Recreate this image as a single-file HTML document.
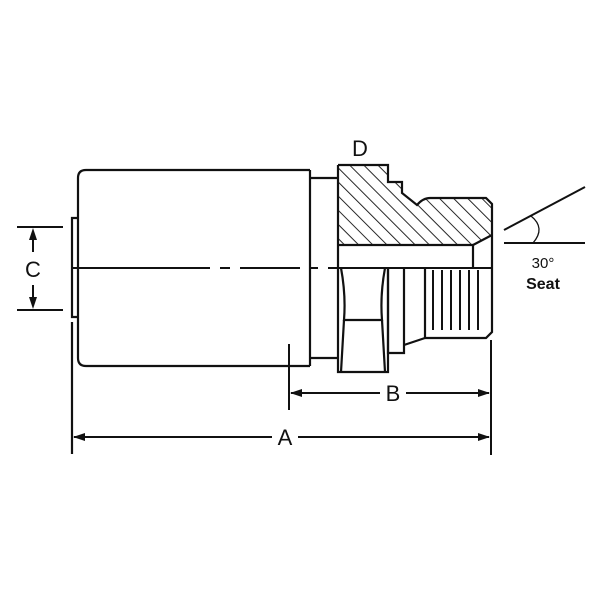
<!DOCTYPE html>
<html><head><meta charset="utf-8"><style>html,body{margin:0;padding:0;background:#fff}svg{display:block}</style></head>
<body>
<svg width="600" height="600" viewBox="0 0 600 600" xmlns="http://www.w3.org/2000/svg" font-family="Liberation Sans, sans-serif">
<defs>
<pattern id="h" patternUnits="userSpaceOnUse" width="10" height="10" patternTransform="rotate(-45)">
<line x1="0" y1="0" x2="0" y2="10" stroke="#111" stroke-width="1.8"/>
</pattern>
<clipPath id="hc"><path d="M338,165 H388 V182 H402 V193 L417,205 Q423,198 430,198 H486 L492,204 V235 L473,245 H338 Z"/></clipPath>
</defs>
<g fill="none" stroke="#111" stroke-width="2.2">
<path d="M310,170 H86 Q78,170 78,178 V358 Q78,366 86,366 H310"/>
<path d="M78,218 H72 V317 H78"/>
<line x1="72" y1="322" x2="72" y2="454"/>
<path d="M310,170 V366 M310,178 H338 M310,358 H338"/>
<rect x="338" y="165" width="160" height="85" fill="url(#h)" stroke="none" clip-path="url(#hc)"/>
<path d="M338,165 H388 V182 H402 V193 L417,205 Q423,198 430,198 H486 L492,204 V332 L486,338 H425"/>
<path d="M338,165 V372 H388 V268"/>
<line x1="338" y1="245" x2="473" y2="245"/>
<line x1="473" y1="245" x2="492" y2="235"/>
<line x1="473" y1="245" x2="473" y2="268"/>
<path d="M341,268 Q346,295 344,320 H382 Q380,295 385,268"/>
<path d="M344,320 L341,372 M382,320 L385,372"/>
<path d="M388,268 V353 H404 V268"/>
<path d="M404,345 L425,338"/>
<path d="M425,268 V338"/>
</g>
<g stroke="#111" stroke-width="2">
<line x1="433" y1="270" x2="433" y2="330"/><line x1="442" y1="270" x2="442" y2="330"/>
<line x1="451" y1="270" x2="451" y2="330"/><line x1="460" y1="270" x2="460" y2="330"/>
<line x1="469" y1="270" x2="469" y2="330"/><line x1="478" y1="270" x2="478" y2="330"/>
</g>
<g stroke="#111" stroke-width="2">
<line x1="72" y1="268" x2="210" y2="268"/>
<line x1="220" y1="268" x2="230" y2="268"/>
<line x1="240" y1="268" x2="300" y2="268"/>
<line x1="310" y1="268" x2="318" y2="268"/>
<line x1="328" y1="268" x2="492" y2="268"/>
</g>
<g stroke="#111" stroke-width="2" fill="#111">
<line x1="17" y1="227" x2="63" y2="227"/><line x1="17" y1="310" x2="63" y2="310"/>
<line x1="33" y1="235" x2="33" y2="252"/><line x1="33" y1="285" x2="33" y2="302"/>
<path d="M33,228 L29,240 H37 Z" stroke="none"/><path d="M33,309 L29,297 H37 Z" stroke="none"/>
<line x1="289" y1="344" x2="289" y2="410"/>
<line x1="491" y1="340" x2="491" y2="455"/>
<line x1="291" y1="393" x2="380" y2="393"/><line x1="406" y1="393" x2="489" y2="393"/>
<path d="M290,393 L302,389 V397 Z" stroke="none"/><path d="M490,393 L478,389 V397 Z" stroke="none"/>
<line x1="74" y1="437" x2="272" y2="437"/><line x1="298" y1="437" x2="489" y2="437"/>
<path d="M73,437 L85,433 V441 Z" stroke="none"/><path d="M490,437 L478,433 V441 Z" stroke="none"/>
<line x1="504" y1="230" x2="585" y2="187"/>
<line x1="504" y1="243" x2="585" y2="243"/>
<path d="M531,216 Q546,228 533,243" fill="none" stroke-width="1.3"/>
</g>
<g fill="#111" font-size="22">
<text x="33" y="277" text-anchor="middle">C</text>
<text x="393" y="401" text-anchor="middle">B</text>
<text x="285" y="445" text-anchor="middle">A</text>
<text x="360" y="156" text-anchor="middle">D</text>
</g>
<text x="543" y="268" text-anchor="middle" font-size="15" fill="#111">30°</text>
<text x="543" y="289" text-anchor="middle" font-size="16" font-weight="bold" fill="#111">Seat</text>
</svg>
</body></html>
